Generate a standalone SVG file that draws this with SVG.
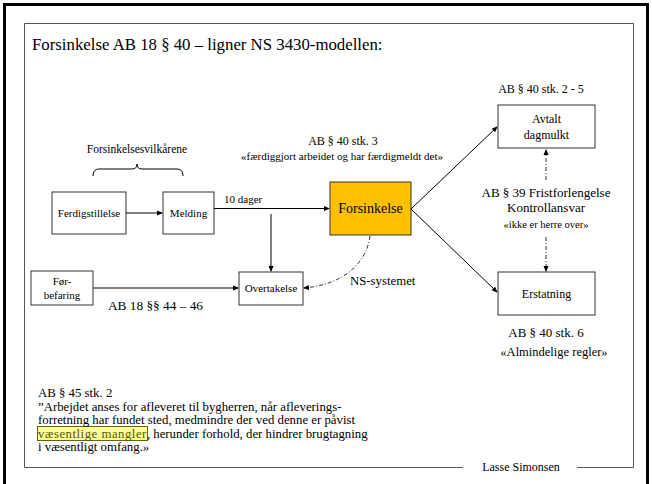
<svg xmlns="http://www.w3.org/2000/svg" width="652" height="484" viewBox="0 0 652 484" font-family="'Liberation Serif', 'Times New Roman', serif">
<style>
text{font-family:'Liberation Serif','Times New Roman',serif;fill:#000}
.box{fill:#fff;stroke:#333;stroke-width:1}
.ln{fill:none;stroke:#000;stroke-width:1}
.dsh{fill:none;stroke:#000;stroke-width:0.8;stroke-dasharray:4 2 1 2}
.c{text-anchor:middle}
</style>
<defs>
<marker id="ah" markerWidth="6" markerHeight="6" refX="5" refY="3" orient="auto" markerUnits="userSpaceOnUse">
<path d="M0,0.5 L6,3 L0,5.5 Z" fill="#000"/>
</marker>
</defs>
<rect x="0" y="0" width="652" height="484" fill="#fff"/>
<rect x="4.5" y="4.5" width="643" height="490" fill="none" stroke="#000" stroke-width="3"/>
<path d="M463,467.5 H24.5 V23.5 H633.5 V467.5 H577" fill="none" stroke="#555" stroke-width="1"/>
<text x="521" y="471" class="c" font-size="12">Lasse Simonsen</text>
<text x="32" y="50" font-size="16.8">Forsinkelse AB 18 § 40 – ligner NS 3430-modellen:</text>

<g id="connectors">
<path class="ln" d="M126,213 H162" marker-end="url(#ah)"/>
<path class="ln" d="M214,208.5 H329" marker-end="url(#ah)"/>
<path class="ln" d="M271,214 V271" marker-end="url(#ah)"/>
<path class="ln" d="M93,288 H238" marker-end="url(#ah)"/>
<path class="ln" d="M411,209 L497,127" stroke-width="0.8" marker-end="url(#ah)"/>
<path class="ln" d="M411,209 L497,292" stroke-width="0.8" marker-end="url(#ah)"/>
<path class="dsh" d="M546,180 V150" marker-end="url(#ah)"/>
<path class="dsh" d="M546,237 V271" marker-end="url(#ah)"/>
<path class="dsh" d="M370,236 C366,266 340,285 304,288" marker-end="url(#ah)"/>
<path class="ln" d="M93,176 Q93,169 99,169 H132 Q137,169 137,164 Q137,169 142,169 H177 Q183,169 183,176" stroke-width="0.8"/>
</g>

<text x="137" y="153" class="c" font-size="11.5">Forsinkelsesvilkårene</text>
<text x="224" y="203" font-size="11">10 dager</text>
<text x="343" y="145" class="c" font-size="12">AB § 40 stk. 3</text>
<text x="342" y="160" class="c" font-size="11">«færdiggjort arbeidet og har færdigmeldt det»</text>
<text x="541" y="93" class="c" font-size="12">AB § 40 stk. 2 - 5</text>
<text x="546" y="197" class="c" font-size="13">AB § 39 Fristforlengelse</text>
<text x="546" y="212" class="c" font-size="13">Kontrollansvar</text>
<text x="546" y="228" class="c" font-size="10.5">«ikke er herre over»</text>
<text x="546" y="337" class="c" font-size="13">AB § 40 stk. 6</text>
<text x="554" y="356" class="c" font-size="12.5">«Almindelige regler»</text>
<text x="108" y="310" font-size="13.3">AB 18 §§ 44 – 46</text>
<text x="350" y="285" font-size="12.8">NS-systemet</text>

<g id="ferdigstillelse">
<rect class="box" x="52" y="192" width="74" height="42"/>
<text x="89" y="217" class="c" font-size="11">Ferdigstillelse</text>
</g>
<g id="melding">
<rect class="box" x="163" y="192" width="51" height="42"/>
<text x="188.5" y="217" class="c" font-size="11">Melding</text>
</g>
<g id="forsinkelse">
<rect x="330" y="182" width="81" height="53" fill="#FFC000" stroke="#333" stroke-width="1"/>
<text x="370.5" y="213" class="c" font-size="14">Forsinkelse</text>
</g>
<g id="avtalt">
<rect class="box" x="498" y="105" width="97" height="43"/>
<text x="546.5" y="123" class="c" font-size="12">Avtalt</text>
<text x="546.5" y="139" class="c" font-size="12">dagmulkt</text>
</g>
<g id="erstatning">
<rect class="box" x="498" y="272" width="97" height="43"/>
<text x="546.5" y="298" class="c" font-size="12">Erstatning</text>
</g>
<g id="overtakelse">
<rect class="box" x="239" y="272" width="64" height="33"/>
<text x="271" y="292" class="c" font-size="11">Overtakelse</text>
</g>
<g id="forbefaring">
<rect class="box" x="31" y="271" width="62" height="34"/>
<text x="62" y="285" class="c" font-size="11">Før-</text>
<text x="62" y="299" class="c" font-size="11">befaring</text>
</g>

<rect x="37.5" y="426.5" width="110" height="14" fill="#FFFF99" stroke="#666600" stroke-width="1"/>
<g font-size="12.8">
<text x="38" y="397">AB § 45 stk. 2</text>
<text x="38" y="410.5">”Arbejdet anses for afleveret til bygherren, når afleverings-</text>
<text x="38" y="424">forretning har fundet sted, medmindre der ved denne er påvist</text>
<text x="38" y="437.5"><tspan fill="#555500" letter-spacing="0.5">væsentlige mangler</tspan>, herunder forhold, der hindrer brugtagning</text>
<text x="38" y="451">i væsentligt omfang.»</text>
</g>
</svg>
